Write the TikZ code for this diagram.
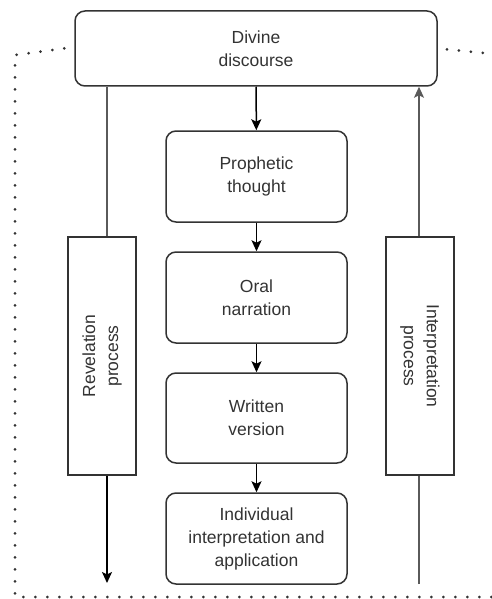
\documentclass[tikz,border=0pt]{standalone}
\usepackage{fontspec}
\setmainfont{Liberation Sans}
\usetikzlibrary{arrows.meta,positioning}
\definecolor{cink}{HTML}{333333}
\definecolor{cside}{HTML}{5A5A5A}

\begin{document}
\begin{tikzpicture}[x=1pt, y=-1pt,
    >={Stealth[length=11pt, width=10pt, inset=2.5pt]},
    flow/.style={->, line width=1.5pt, draw=black},
    sideln/.style={line width=1.6pt, draw=cside},
    stage/.style={draw=cink, line width=1.5pt, rounded corners=10pt, align=center,
                  minimum width=181pt, minimum height=91pt, text=cink,
                  font=\fontsize{17.5}{23}\selectfont},
    procbox/.style={draw=cink, line width=1.5pt, minimum width=68pt, minimum height=238pt},
    proclbl/.style={align=center, text=cink, font=\fontsize{17.5}{23}\selectfont},
    dotln/.style={line width=3pt, draw=cink, line cap=round, dash pattern=on 0pt off 12pt},
  ]
  \useasboundingbox (0,0) rectangle (492,599);

  \node[stage, minimum width=362pt, minimum height=75pt] (D) at (256,48.5) {Divine\\discourse};
  \node[stage] (P) at (256.5,176.5) {Prophetic\\thought};
  \node[stage] (O) at (256.5,297.5) {Oral\\narration};
  \node[stage, minimum height=90pt] (W) at (256.5,418) {Written\\version};
  \node[stage] (I) at (256.5,538.5) {Individual\\interpretation and\\application};

  \node[procbox] (R) at (102,356) {};
  \node[proclbl, rotate=90] (Rl) at (R) {Revelation\\process};
  \node[procbox] (E) at (420,356) {};
  \node[proclbl, rotate=-90] (El) at (E) {Interpretation\\process};

  \coordinate (rend) at (107,583);
  \coordinate (estart) at (419,584);

  % central chain
  \draw[flow] (D) -- (P);
  \draw[flow] (P) -- (O);
  \draw[flow] (O) -- (W);
  \draw[flow] (W) -- (I);

  % revelation side
  \draw[sideln] (D.south -| rend) -- (R.north -| rend);
  \draw[flow] (R.south -| rend) -- (rend);

  % interpretation side
  \draw[sideln] (estart) -- (E.south -| estart);
  \draw[sideln, ->] (E.north -| estart) -- (D.south -| estart);

  % dotted frame
  \draw[dotln] ([xshift=-10pt]D.west) -- (15,55) -- (15,597) -- (504,597) -- (504,55) -- (D.east);
\end{tikzpicture}
\end{document}
